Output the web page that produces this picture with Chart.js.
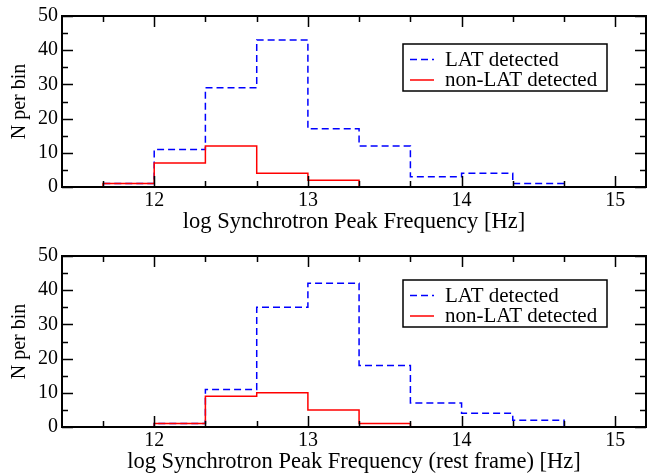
<!DOCTYPE html>
<html lang="en">
<head>
    <meta charset="UTF-8">
    <script src="https://cdn.jsdelivr.net/npm/chart.js"></script>
</head>
<body style="margin:0">
    <canvas id="topChart" width="647" height="240"></canvas>
    <canvas id="bottomChart" width="647" height="240"></canvas>

    <script>
        // Bin edges in log Hz (bins are 1/3 dex wide)
        const binEdges = [11.333, 11.667, 12.0, 12.333, 12.667, 13.0, 13.333, 13.667, 14.0, 14.333, 14.667, 15.0];

        // Counts per bin, observed frame (top panel)
        const latObserved = [0, 1, 11, 29, 43, 17, 12, 3, 4, 1, 0];
        const nonLatObserved = [0, 1, 7, 12, 4, 2, 0, 0, 0, 0, 0];

        // Counts per bin, rest frame (bottom panel)
        const latRest = [0, 0, 1, 11, 35, 42, 18, 7, 4, 2, 0];
        const nonLatRest = [0, 0, 1, 9, 10, 5, 1, 0, 0, 0, 0];

        // Axis ticks
        const xTickLabels = [12, 13, 14, 15];
        const xMinorTicks = [11.667, 12.333, 12.667, 13.333, 13.667, 14.333, 14.667];
        const yTickLabels = [0, 10, 20, 30, 40, 50];
        const yMinorTicks = [5, 15, 25, 35, 45];

        const seriesNames = ['LAT detected', 'non-LAT detected'];
        const topXTitle = 'log Synchrotron Peak Frequency [Hz]';
        const bottomXTitle = 'log Synchrotron Peak Frequency (rest frame) [Hz]';
        const yTitle = 'N per bin';

        const serif = "'Liberation Serif', 'Times New Roman', serif";
        const dashPattern = [7, 4];

        // step points: each bin's count starts at its left edge
        function toSteps(counts) {
            return binEdges.map((x, i) => ({ x: x, y: counts[Math.min(i, counts.length - 1)] }));
        }

        // Inward ticks on all four sides plus the box frame
        const framePlugin = {
            id: 'frame',
            afterDraw(chart) {
                const ctx = chart.ctx;
                const area = chart.chartArea;
                const xs = chart.scales.x;
                const ys = chart.scales.y;
                const major = 11, minor = 6;
                ctx.save();
                ctx.strokeStyle = '#000';
                ctx.lineWidth = 1.5;
                ctx.beginPath();
                const xt = xTickLabels.map(v => [v, major]).concat(xMinorTicks.map(v => [v, minor]));
                xt.forEach(([v, len]) => {
                    const px = Math.round(xs.getPixelForValue(v)) + 0.5;
                    ctx.moveTo(px, area.bottom);
                    ctx.lineTo(px, area.bottom - len);
                    ctx.moveTo(px, area.top);
                    ctx.lineTo(px, area.top + len);
                });
                const yt = yTickLabels.map(v => [v, major]).concat(yMinorTicks.map(v => [v, minor]));
                yt.forEach(([v, len]) => {
                    const py = Math.round(ys.getPixelForValue(v)) + 0.5;
                    ctx.moveTo(area.left, py);
                    ctx.lineTo(area.left + len, py);
                    ctx.moveTo(area.right, py);
                    ctx.lineTo(area.right - len, py);
                });
                ctx.stroke();
                ctx.lineWidth = 2;
                ctx.strokeRect(area.left, area.top, area.right - area.left, area.bottom - area.top);
                ctx.restore();
            }
        };

        // Boxed legend inside the plot, upper right
        const boxLegendPlugin = {
            id: 'boxLegend',
            afterDraw(chart, args, opts) {
                const ctx = chart.ctx;
                const area = chart.chartArea;
                const left = area.right - opts.rightGap - opts.width;
                const top = area.top + opts.topGap;
                ctx.save();
                ctx.fillStyle = '#fff';
                ctx.fillRect(left, top, opts.width, opts.height);
                ctx.strokeStyle = '#000';
                ctx.lineWidth = 1.5;
                ctx.strokeRect(left, top, opts.width, opts.height);
                ctx.font = '21px ' + serif;
                ctx.textBaseline = 'middle';
                ctx.textAlign = 'left';
                chart.data.datasets.forEach((ds, i) => {
                    const cy = top + 15 + i * 20.5;
                    ctx.beginPath();
                    ctx.strokeStyle = ds.borderColor;
                    ctx.lineWidth = ds.borderWidth;
                    ctx.setLineDash(ds.borderDash || []);
                    ctx.moveTo(left + 7, cy + 0.5);
                    ctx.lineTo(left + 31, cy + 0.5);
                    ctx.stroke();
                    ctx.setLineDash([]);
                    ctx.fillStyle = '#000';
                    ctx.fillText(ds.label, left + 42, cy + 1);
                });
                ctx.restore();
            }
        };

        function createHistogram(canvasId, latCounts, nonLatCounts, xTitle, legendTop) {
            return new Chart(document.getElementById(canvasId), {
                type: 'line',
                data: {
                    datasets: [
                        {
                            label: seriesNames[0],
                            data: toSteps(latCounts),
                            borderColor: '#0000ff',
                            borderWidth: 1.5,
                            borderDash: dashPattern,
                            stepped: true,
                            pointRadius: 0,
                            fill: false,
                            order: 1
                        },
                        {
                            label: seriesNames[1],
                            data: toSteps(nonLatCounts),
                            borderColor: '#ff0000',
                            borderWidth: 1.5,
                            stepped: true,
                            pointRadius: 0,
                            fill: false,
                            order: 0
                        }
                    ]
                },
                options: {
                    responsive: false,
                    animation: false,
                    layout: {
                        padding: { top: 15, right: 1, left: 0, bottom: 0 }
                    },
                    plugins: {
                        legend: { display: false },
                        tooltip: { enabled: false },
                        boxLegend: { width: 204, height: 47, rightGap: 39, topGap: legendTop }
                    },
                    scales: {
                        x: {
                            type: 'linear',
                            min: 11.4,
                            max: 15.2,
                            afterBuildTicks: s => { s.ticks = xTickLabels.map(v => ({ value: v })); },
                            afterFit: s => { s.height = 53; },
                            grid: { display: false, drawTicks: false },
                            border: { display: false },
                            ticks: {
                                color: '#000',
                                padding: 2,
                                maxRotation: 0,
                                font: { family: serif, size: 20 }
                            },
                            title: {
                                display: true,
                                text: xTitle,
                                color: '#000',
                                padding: { top: 0, bottom: 4 },
                                font: { family: serif, size: 22.5 }
                            }
                        },
                        y: {
                            min: 0,
                            max: 50,
                            afterBuildTicks: s => { s.ticks = yTickLabels.map(v => ({ value: v })); },
                            afterFit: s => { s.width = 62; },
                            grid: { display: false, drawTicks: false },
                            border: { display: false },
                            ticks: {
                                color: '#000',
                                padding: 4,
                                font: { family: serif, size: 20 }
                            },
                            title: {
                                display: true,
                                text: yTitle,
                                color: '#000',
                                padding: { top: 8, bottom: 0 },
                                font: { family: serif, size: 20 }
                            }
                        }
                    }
                },
                plugins: [framePlugin, boxLegendPlugin]
            });
        }

        const charts = [
            createHistogram('topChart', latObserved, nonLatObserved, topXTitle, 28),
            createHistogram('bottomChart', latRest, nonLatRest, bottomXTitle, 24)
        ];

        // redraw once fonts have settled
        document.fonts.ready.then(() => charts.forEach(c => c.update()));
    </script>
</body>
</html>
